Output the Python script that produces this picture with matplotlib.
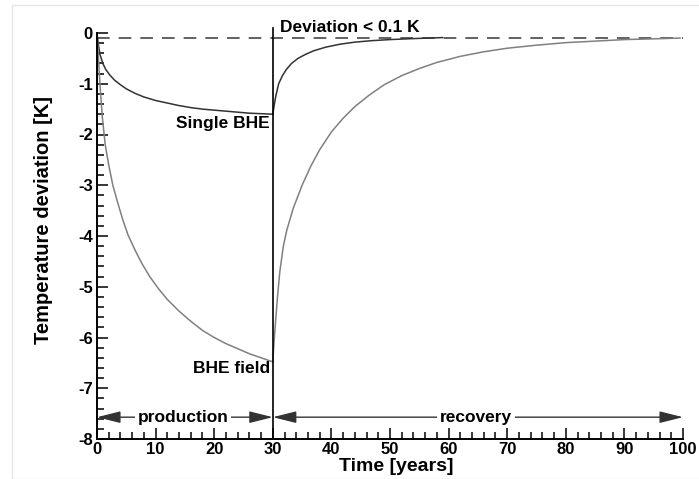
import matplotlib
matplotlib.use("Agg")
import matplotlib.pyplot as plt
from matplotlib.ticker import MultipleLocator
from matplotlib.patches import Rectangle

plt.rcParams["font.family"] = ["Liberation Sans", "DejaVu Sans"]
plt.rcParams["font.weight"] = "bold"
plt.rcParams["axes.unicode_minus"] = False

# Single BHE, production (0-30 years) and recovery (30+ years)
single_prod_t = [0, 0.2, 0.5, 1, 1.5, 2.2, 3, 4, 5, 6.5, 8, 10, 12, 14, 16, 18, 20,
                 22, 24, 26, 28, 30]
single_prod_v = [0, -0.2, -0.42, -0.6, -0.72, -0.83, -0.93, -1.02, -1.1, -1.19,
                 -1.26, -1.33, -1.38, -1.43, -1.47, -1.5, -1.52, -1.54, -1.56,
                 -1.58, -1.59, -1.6]
single_rec_t = [30, 30.2, 30.5, 31, 31.6, 32.3, 33.2, 34.3, 35.6, 37, 39, 41.5, 44,
                47, 50, 54, 59]
single_rec_v = [-1.6, -1.45, -1.25, -1.0, -0.85, -0.72, -0.6, -0.5, -0.42, -0.35,
                -0.28, -0.22, -0.18, -0.15, -0.13, -0.11, -0.09]

# BHE field
field_prod_t = [0, 0.2, 0.5, 0.9, 1.4, 2.0, 2.7, 3.5, 4.4, 5.3, 6.5, 7.7, 9, 10.5,
                12, 14, 16, 18, 20, 22, 24, 26, 28, 30]
field_prod_v = [0, -0.4, -1.0, -1.65, -2.2, -2.6, -3.0, -3.33, -3.68, -3.98, -4.28,
                -4.55, -4.8, -5.04, -5.25, -5.48, -5.68, -5.86, -6.0, -6.12, -6.22,
                -6.32, -6.4, -6.48]
field_rec_t = [30, 30.2, 30.4, 30.8, 31.2, 31.8, 32.4, 33.5, 35, 36.5, 38, 40, 42,
               44, 46.5, 49, 52, 55, 58, 62, 66, 70, 75, 80, 85, 90, 95, 99.5]
field_rec_v = [-6.48, -6.1, -5.8, -5.2, -4.7, -4.2, -3.88, -3.45, -3.0, -2.62, -2.3,
               -1.95, -1.68, -1.45, -1.22, -1.02, -0.84, -0.7, -0.58, -0.46, -0.37,
               -0.3, -0.24, -0.19, -0.16, -0.13, -0.115, -0.1]

threshold = -0.1
switch_year = 30
end_year = 100

fig = plt.figure(figsize=(6.99, 4.79), dpi=100)
fig.patches.append(Rectangle((12 / 699, 0), 1, 1 - 5 / 479, transform=fig.transFigure,
                             fill=False, edgecolor="#e6e6e6", linewidth=1))
ax = fig.add_axes([97 / 699, 40 / 479, (683 - 97) / 699, (439 - 33) / 479])

ax.plot([0, end_year], [threshold, threshold], color="#555555", linewidth=1.3,
        dashes=(7, 5))
ax.plot(single_prod_t, single_prod_v, color="#333333", linewidth=1.1)
ax.plot(single_rec_t, single_rec_v, color="#333333", linewidth=1.1)
ax.plot(field_prod_t, field_prod_v, color="#808080", linewidth=1.1)
ax.plot(field_rec_t, field_rec_v, color="#808080", linewidth=1.1)
ax.plot([switch_year, switch_year], [-8, 0.1], color="black", linewidth=1.2,
        clip_on=False)

ax.set_xlim(0, end_year)
ax.set_ylim(-8, 0)
ax.xaxis.set_major_locator(MultipleLocator(10))
ax.xaxis.set_minor_locator(MultipleLocator(2))
ax.yaxis.set_major_locator(MultipleLocator(1))
ax.yaxis.set_minor_locator(MultipleLocator(0.2))
ax.tick_params(which="both", direction="in", width=1.1, labelsize=12)
ax.tick_params(which="major", length=8)
ax.tick_params(which="minor", length=5)
ax.tick_params(axis="x", pad=2)
ax.tick_params(axis="y", pad=3)
ax.spines["top"].set_visible(False)
ax.spines["right"].set_visible(False)
for s in ["left", "bottom"]:
    ax.spines[s].set_linewidth(1.4)

ax.set_ylabel("Temperature deviation [K]", fontsize=14.5, fontweight="bold")
ax.yaxis.set_label_coords(-0.075, 0.54)
ax.set_xlabel("Time [years]", fontsize=14, fontweight="bold")
ax.xaxis.set_label_coords(0.51, -0.047)

ax.text(29.5, -1.79, "Single BHE", ha="right", va="center", fontsize=12.5)
ax.text(29.5, -6.62, "BHE field", ha="right", va="center", fontsize=12.5)
ax.text(31.2, 0.1, "Deviation < 0.1 K", ha="left", va="center", fontsize=12.5,
        clip_on=False)

arrow_y = -7.57
arrow = dict(arrowstyle="-|>,head_length=1.2,head_width=0.3", color="#333333",
             linewidth=1.0, shrinkA=0, shrinkB=0, mutation_scale=12)
ax.annotate("", xy=(0, arrow_y), xytext=(15, arrow_y), arrowprops=arrow)
ax.annotate("", xy=(30, arrow_y), xytext=(15, arrow_y), arrowprops=arrow)
ax.annotate("", xy=(30, arrow_y), xytext=(65, arrow_y), arrowprops=arrow)
ax.annotate("", xy=(100, arrow_y), xytext=(65, arrow_y), arrowprops=arrow)
box = dict(facecolor="white", edgecolor="none", pad=2)
ax.text(14.7, arrow_y, "production", ha="center", va="center", fontsize=12.5, bbox=box)
ax.text(64.7, arrow_y, "recovery", ha="center", va="center", fontsize=12.5, bbox=box)

fig.savefig("out.png", dpi=100)
